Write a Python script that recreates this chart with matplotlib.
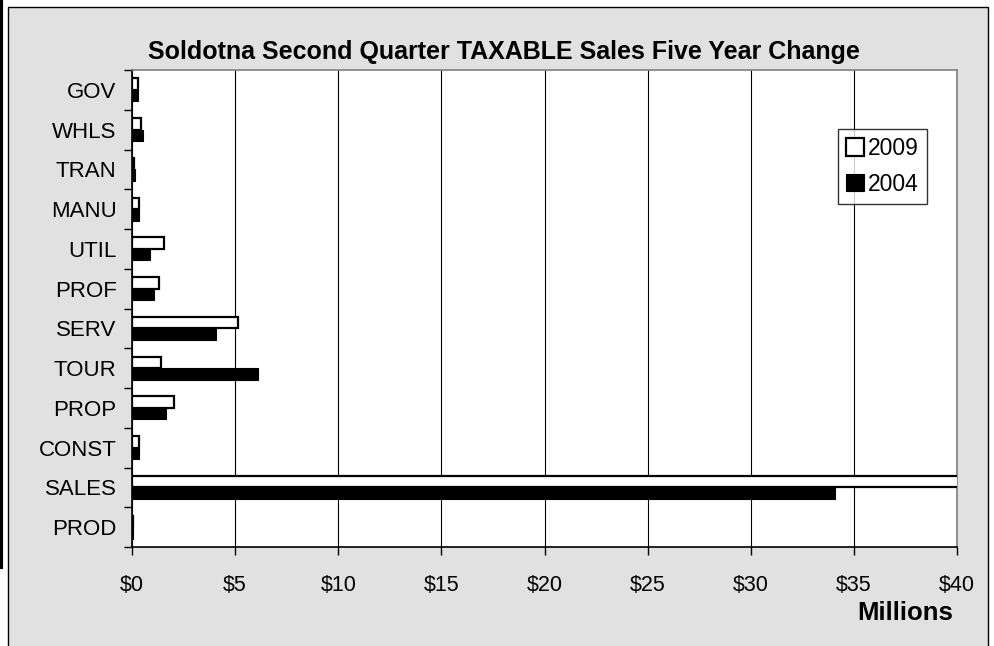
import matplotlib
matplotlib.use('Agg')
import matplotlib.pyplot as plt
from matplotlib.patches import Rectangle
from matplotlib.lines import Line2D
from matplotlib.ticker import FuncFormatter
import numpy as np

plt.rcParams['font.family'] = ['Liberation Sans', 'DejaVu Sans']

# Data (millions of dollars), top to bottom
categories = ['GOV', 'WHLS', 'TRAN', 'MANU', 'UTIL', 'PROF', 'SERV',
              'TOUR', 'PROP', 'CONST', 'SALES', 'PROD']
sales_2009 = [0.28, 0.42, 0.08, 0.36, 1.55, 1.31, 5.16,
              1.43, 2.04, 0.34, 41.0, 0.03]
sales_2004 = [0.27, 0.53, 0.16, 0.34, 0.86, 1.07, 4.06,
              6.12, 1.65, 0.33, 34.1, 0.05]
x_ticks = [0, 5, 10, 15, 20, 25, 30, 35, 40]

BG = '#e1e1e1'

fig = plt.figure(figsize=(9.95, 6.46), dpi=100, facecolor='white')

# chart area frame (gray panel with black border), plus the stray left rule
fig.patches.append(Rectangle((8 / 995, -0.02), 980 / 995, 1 - 7 / 646 + 0.02,
                             transform=fig.transFigure, facecolor=BG,
                             edgecolor='black', linewidth=1, zorder=-5))
fig.lines.append(Line2D([1.5 / 995, 1.5 / 995], [1, 1 - 567 / 646],
                        transform=fig.transFigure, color='black', linewidth=3,
                        zorder=-5))

ax = fig.add_axes([132 / 995, 1 - 547 / 646, 825 / 995, 477 / 646])
ax.set_facecolor('white')

y = np.arange(len(categories))
h = 0.29
ax.barh(y - h / 2, sales_2009, height=h, color='white', edgecolor='black',
        linewidth=1.6, label='2009', zorder=3)
ax.barh(y + h / 2, sales_2004, height=h, color='black', edgecolor='black',
        linewidth=0.8, label='2004', zorder=3)

ax.set_xlim(0, 40)
ax.set_ylim(len(categories) - 0.5, -0.5)

ax.set_xticks(x_ticks)
ax.xaxis.set_major_formatter(FuncFormatter(lambda v, p: f'${v:.0f}'))
ax.grid(axis='x', color='black', linewidth=0.8, zorder=1)
ax.set_axisbelow(True)

# category labels centred in bands, tick marks on the band boundaries
ax.set_yticks(y)
ax.set_yticklabels(categories)
ax.set_yticks(np.arange(len(categories) + 1) - 0.5, minor=True)
ax.tick_params(axis='y', which='major', length=0, pad=11, labelsize=16)
ax.tick_params(axis='y', which='minor', length=6, width=1, direction='out')
ax.tick_params(axis='x', length=6, width=1, direction='out', pad=14, labelsize=15.5)

for side in ['top', 'right']:
    ax.spines[side].set_color('#808080')
    ax.spines[side].set_linewidth(1.2)
for side in ['left', 'bottom']:
    ax.spines[side].set_color('black')
    ax.spines[side].set_linewidth(1.2)

fig.text(504 / 995, 1 - 52 / 646,
         'Soldotna Second Quarter TAXABLE Sales Five Year Change',
         ha='center', va='center', fontsize=18, fontweight='bold')
fig.text(905 / 995, 1 - 613 / 646, 'Millions', ha='center', va='center',
         fontsize=18.5, fontweight='bold')

leg = ax.legend(loc='upper left', bbox_to_anchor=((838 - 132) / 825, (547 - 129) / 477),
                frameon=True, fancybox=False, fontsize=16.5, handlelength=0.8,
                handleheight=0.8, handletextpad=0.15, borderpad=0.35,
                labelspacing=0.55, borderaxespad=0)
leg.get_frame().set_edgecolor('black')
leg.get_frame().set_linewidth(1)
leg.set_zorder(5)

fig.savefig('out.png', dpi=100, facecolor=fig.get_facecolor())
